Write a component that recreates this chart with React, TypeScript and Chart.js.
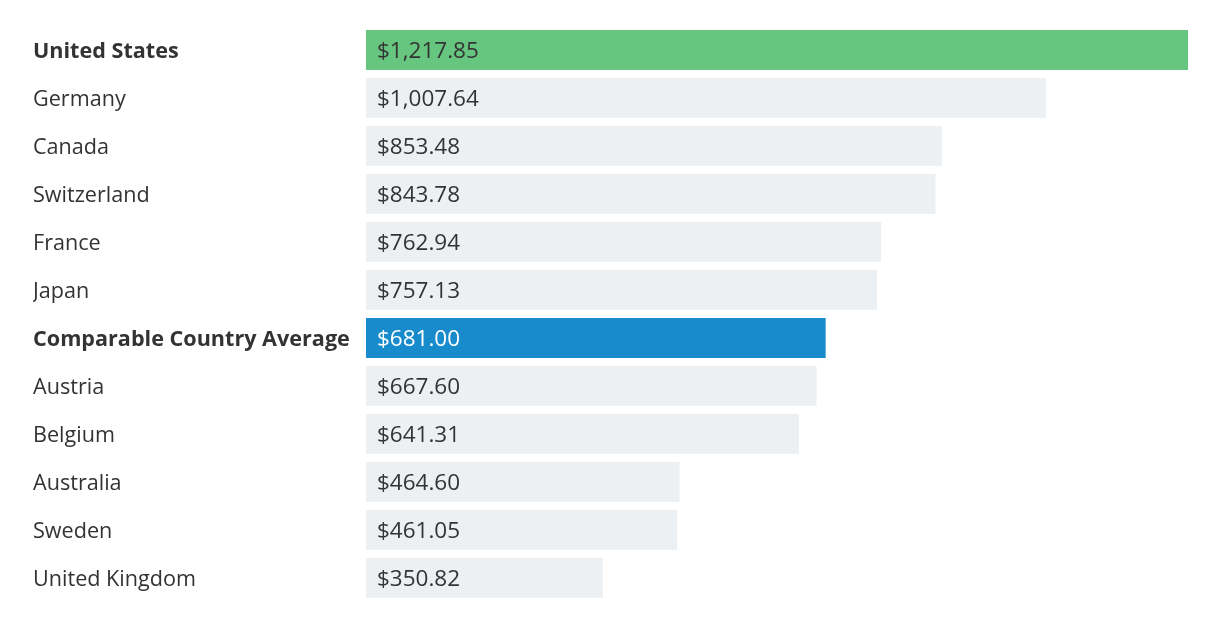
import React, { useEffect, useRef } from "react";
import { Chart, registerables } from "chart.js";

Chart.register(...registerables);

const categories = [
  "United States",
  "Germany",
  "Canada",
  "Switzerland",
  "France",
  "Japan",
  "Comparable Country Average",
  "Austria",
  "Belgium",
  "Australia",
  "Sweden",
  "United Kingdom",
];

const values = [1217.85, 1007.64, 853.48, 843.78, 762.94, 757.13, 681.0, 667.6, 641.31, 464.6, 461.05, 350.82];

const highlighted = ["United States", "Comparable Country Average"];

const FONT = "'Open Sans', 'Noto Sans', sans-serif";
const TEXT = "#333333";

function barColor(name: string) {
  if (name === "United States") return "#66C67F";
  if (name === "Comparable Country Average") return "#178BCB";
  return "#ECF0F3";
}

const fmt = (v: number) =>
  "$" + v.toLocaleString("en-US", { minimumFractionDigits: 2, maximumFractionDigits: 2 });

const valueLabels = {
  id: "valueLabels",
  afterDatasetsDraw(chart: any) {
    const ctx = chart.ctx;
    const meta = chart.getDatasetMeta(0);
    ctx.save();
    ctx.font = `22.5px ${FONT}`;
    ctx.textBaseline = "middle";
    ctx.textAlign = "left";
    meta.data.forEach((bar: any, i: number) => {
      const name = categories[i];
      ctx.fillStyle = name === "Comparable Country Average" ? "#FFFFFF" : TEXT;
      ctx.fillText(fmt(values[i]), bar.base + 11, bar.y + 2);
    });
    ctx.restore();
  },
};

export default function App() {
  const ref = useRef<HTMLCanvasElement | null>(null);
  useEffect(() => {
    if (!ref.current) return;
    const chart = new Chart(ref.current, {
      type: "bar",
      data: {
        labels: categories,
        datasets: [
          {
            data: values,
            backgroundColor: categories.map(barColor),
            borderWidth: 0,
            barPercentage: 1,
            categoryPercentage: 40 / 48,
          },
        ],
      },
      options: {
        indexAxis: "y",
        animation: false,
        responsive: false,
        layout: { padding: { left: 33, right: 32, top: 26, bottom: 26 } },
        plugins: { legend: { display: false }, tooltip: { enabled: false } },
        scales: {
          x: {
            display: false,
            min: 0,
            max: Math.max(...values),
          },
          y: {
            grid: { display: false },
            border: { display: false },
            afterFit(scale: any) {
              scale.width = 333;
              if (!scale.__shifted) {
                const orig = scale.drawLabels.bind(scale);
                scale.drawLabels = (area: any) => {
                  scale.ctx.save();
                  scale.ctx.translate(0, 2);
                  orig(area);
                  scale.ctx.restore();
                };
                scale.__shifted = true;
              }
            },
            ticks: {
              crossAlign: "far",
              color: TEXT,
              padding: 0,
              font: (c: any) => ({
                family: FONT,
                size: 21.6,
                weight: highlighted.includes(categories[c.index]) ? "bold" : "normal",
              }),
            },
          },
        },
      },
      plugins: [valueLabels],
    });
    return () => chart.destroy();
  }, []);
  return (
    <div style={{ position: "absolute", left: 0, top: 0, width: 1220, height: 628, background: "#fff" }}>
      <canvas ref={ref} width={1220} height={628} style={{ width: 1220, height: 628 }} />
    </div>
  );
}
